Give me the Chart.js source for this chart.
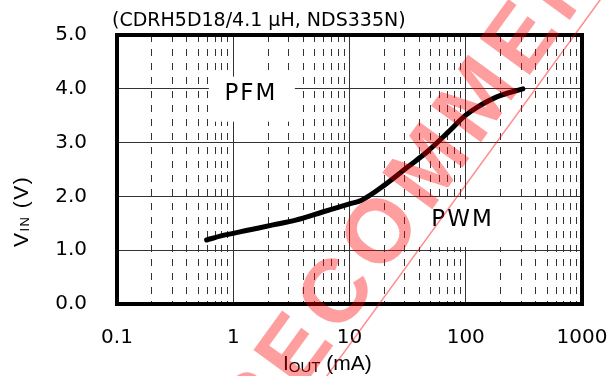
<!DOCTYPE html>
<html>
<head>
<meta charset="utf-8">
<script src="https://cdn.jsdelivr.net/npm/chart.js@4"></script>
<style>
  html, body { margin: 0; padding: 0; background: #fff; }
</style>
</head>
<body>
<canvas id="chartCanvas" width="609" height="376"></canvas>
<script>
// VIN switching threshold (PFM <-> PWM) vs output current
const iOut = [0.59, 0.8, 1.36, 2.2, 3.44, 5.86, 10, 12.7, 20, 31.8, 46.6, 69.5, 100, 126, 185, 310];
const vIn  = [1.19, 1.27, 1.375, 1.47, 1.56, 1.71, 1.86, 1.93, 2.21, 2.55, 2.83, 3.18, 3.51, 3.66, 3.85, 4.0];

// axes
const xDecades = [0.1, 1, 10, 100, 1000];
const xDecadeLabels = ['0.1', '1', '10', '100', '1000'];
const yTicks = [0, 1, 2, 3, 4, 5];

const titleText = '(CDRH5D18/4.1 \u00b5H, NDS335N)';
const stamp = 'NOT RECOMMENDED FOR NEW DESIGN';

// grid positions: decades plus 2..9 in between
const xGrid = [];
xDecades.forEach((d, i) => {
  xGrid.push(d);
  if (i < xDecades.length - 1) {
    for (let m = 2; m <= 9; m++) xGrid.push(+(d * m).toPrecision(3));
  }
});

const FONT = '"Liberation Sans", Arial, sans-serif';

// Helper: text with white box behind it (region labels)
function regionLabel(ctx, chart, label, xv, yv, box) {
  const x = chart.scales.x.getPixelForValue(xv);
  const y = chart.scales.y.getPixelForValue(yv);
  ctx.save();
  ctx.fillStyle = '#fff';
  ctx.fillRect(x + box[0], y + box[1], box[2] - box[0], box[3] - box[1]);
  ctx.fillStyle = '#000';
  ctx.font = '23px "DejaVu Sans"';
  ctx.letterSpacing = '2px';
  ctx.textAlign = 'center';
  ctx.textBaseline = 'middle';
  ctx.fillText(label, x + 1, y);
  ctx.restore();
}

const decorations = {
  id: 'decorations',
  beforeDatasetsDraw(chart) {
    const ctx = chart.ctx;
    regionLabel(ctx, chart, 'PFM', 1.39, 3.91, [-41, -17, 45, 28]);
    regionLabel(ctx, chart, 'PWM', 92, 1.56, [-49, -21, 41, 27]);
  },
  afterDatasetsDraw(chart) {
    const ctx = chart.ctx;
    const a = chart.chartArea;
    ctx.save();
    ctx.strokeStyle = '#000';
    ctx.lineWidth = 4;
    ctx.strokeRect(a.left, a.top, a.right - a.left, a.bottom - a.top);
    ctx.restore();

    // title
    ctx.save();
    ctx.fillStyle = '#000';
    ctx.font = '19px "DejaVu Sans"';
    ctx.textBaseline = 'alphabetic';
    ctx.fillText(titleText, 112, 26);

    // x title: I_OUT (mA)
    ctx.font = '21px ' + FONT;
    let x = 283;
    ctx.fillText('I', x, 370);
    x += ctx.measureText('I').width;
    ctx.font = '15px ' + FONT;
    ctx.fillText('OUT', x, 372);
    x += ctx.measureText('OUT').width;
    ctx.font = '21px ' + FONT;
    ctx.fillText(' (mA)', x, 370);

    // y title: V_IN (V)
    ctx.translate(28, 247);
    ctx.rotate(-Math.PI / 2);
    ctx.letterSpacing = '1.5px';
    x = 0;
    ctx.font = '21px ' + FONT;
    ctx.fillText('V', x, 0);
    x += ctx.measureText('V').width;
    ctx.font = '13px ' + FONT;
    ctx.fillText('IN', x, 1);
    x += ctx.measureText('IN').width;
    ctx.font = '21px ' + FONT;
    ctx.fillText(' (V)', x, 0);
    ctx.restore();
  },
  afterDraw(chart) {
    // red stamp across the chart
    const ctx = chart.ctx;
    ctx.save();
    ctx.fillStyle = 'rgba(255,0,0,0.38)';
    ctx.strokeStyle = 'rgba(255,0,0,0.45)';
    ctx.lineWidth = 1.5;
    ctx.beginPath();
    ctx.moveTo(300, 413);
    ctx.lineTo(640, -55);
    ctx.stroke();

    const size = 90;
    const gap = 8;
    ctx.font = 'bold ' + size + 'px ' + FONT;
    ctx.letterSpacing = gap + 'px';
    const pre = ctx.measureText('NOT RE').width;
    const cw = ctx.measureText('C').width - gap;
    ctx.translate(333, 291);
    ctx.rotate(-54 * Math.PI / 180);
    ctx.fillText(stamp, -(pre + cw / 2), size * 0.716 / 2);
    ctx.restore();
  }
};

const ctx = document.getElementById('chartCanvas').getContext('2d');
window.chart1 = new Chart(ctx, {
  type: 'line',
  data: {
    datasets: [{
      data: iOut.map((v, i) => ({ x: v, y: vIn[i] })),
      borderColor: '#000',
      borderWidth: 5,
      pointRadius: 0,
      cubicInterpolationMode: 'monotone',
      borderCapStyle: 'round',
      borderJoinStyle: 'round',
      fill: false
    }]
  },
  options: {
    responsive: false,
    animation: false,
    devicePixelRatio: 1,
    layout: { padding: { top: 35, right: 27, left: 0, bottom: 0 } },
    plugins: { legend: { display: false }, tooltip: { enabled: false } },
    scales: {
      x: {
        type: 'logarithmic',
        min: 0.1,
        max: 1000,
        afterBuildTicks: s => { s.ticks = xGrid.map(v => ({ value: v, major: xDecades.includes(v) })); },
        afterFit: s => { s.height = 72; s.paddingLeft = 0; s.paddingRight = 0; },
        ticks: {
          autoSkip: false,
          maxRotation: 0,
          padding: 22,
          color: '#000',
          font: { family: 'DejaVu Sans', size: 20 },
          callback: v => {
            const i = xDecades.indexOf(v);
            return i >= 0 ? xDecadeLabels[i] : '';
          }
        },
        grid: { color: '#333', lineWidth: 1, drawTicks: false },
        border: { display: false, dash: c => (c.tick && c.tick.major) ? [] : [7, 7] }
      },
      y: {
        min: 0,
        max: 5,
        afterBuildTicks: s => { s.ticks = yTicks.map(v => ({ value: v })); },
        afterFit: s => { s.width = 117; s.paddingTop = 0; s.paddingBottom = 0; },
        ticks: {
          padding: 30,
          color: '#000',
          font: { family: 'DejaVu Sans', size: 20 },
          callback: v => v.toFixed(1)
        },
        grid: { color: '#333', lineWidth: 1, drawTicks: false },
        border: { display: false }
      }
    }
  },
  plugins: [decorations]
});
</script>
</body>
</html>
